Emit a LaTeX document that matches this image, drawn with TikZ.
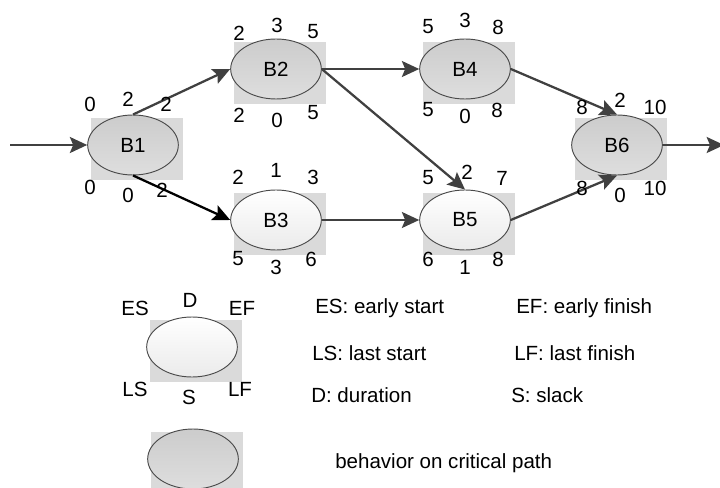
\documentclass[tikz,border=0pt]{standalone}
\usepackage{fontspec}
\setmainfont{Liberation Sans}
\usetikzlibrary{shapes.geometric,arrows.meta,backgrounds}

\definecolor{boxgray}{HTML}{DADADA}
\definecolor{linegray}{HTML}{404040}
\definecolor{rimgray}{HTML}{4A4A4A}

\tikzset{
  task/.style={ellipse, draw=rimgray, line width=0.7pt, minimum width=68pt, minimum height=45pt, inner sep=0pt},
  crit/.style={task, top color=black!20, bottom color=black!13},
  free/.style={task, top color=white, bottom color=black!8},
  num/.style={inner sep=0pt},
  key/.style={inner sep=0pt, anchor=west},
  arr/.style={draw=linegray, line width=1.7pt, -{Stealth[length=13pt, width=12pt, inset=2.5pt]}},
}

\begin{document}
\begin{tikzpicture}[x=0.75pt, y=-0.75pt, every node/.style={font=\fontsize{15.4}{18}\selectfont}]
\useasboundingbox (0,0) rectangle (720,488);

\node [crit] (B1) at (133,145) {B1};
\node [crit] (B2) at (276,69) {B2};
\node [free] (B3) at (276,220) {B3};
\node [crit] (B4) at (465,69) {B4};
\node [free] (B5) at (465,220) {B5};
\node [crit] (B6) at (617,145) {B6};

\node [free] (L1) at (192,347) {};
\node [crit] (L2) at (193,459) {};

% grey boxes behind the tasks
\begin{scope}[on background layer]
\foreach \t in {B1,B2,B3,B4,B5,B6,L1,L2}
  \fill [boxgray] ([shift={(-42,-27)}]\t.center) rectangle ([shift={(50,35)}]\t.center);
\end{scope}

\coordinate (in) at (10,145);
\coordinate (out) at (724,145);
\draw [arr] (in) -- (B1.west);
\draw [arr] (B1.north) -- (B2.west);
\draw [arr, draw=black] (B1.south) -- (B3.west);
\draw [arr] (B2.east) -- (B4.west);
\draw [arr] (B2.east) -- (B5.north);
\draw [arr] (B3.east) -- (B5.west);
\draw [arr] (B4.east) -- (B6.north);
\draw [arr] (B5.east) -- (B6.south);
\draw [arr] (B6.east) -- (out);

% ES D EF / LS S LF
\node [num] (B1es) at (90,104) {0};
\node [num] (B1d) at (128,99) {2};
\node [num] (B1ef) at (166,104) {2};
\node [num] (B1ls) at (90,187) {0};
\node [num] (B1s) at (128,195) {0};
\node [num] (B1lf) at (162,190) {2};

\node [num] (B2es) at (239,33) {2};
\node [num] (B2d) at (277,25) {3};
\node [num] (B2ef) at (313,32) {5};
\node [num] (B2ls) at (239,115) {2};
\node [num] (B2s) at (277,120) {0};
\node [num] (B2lf) at (313,113) {5};

\node [num] (B3es) at (238,177) {2};
\node [num] (B3d) at (276,170) {1};
\node [num] (B3ef) at (313,177) {3};
\node [num] (B3ls) at (238,259) {5};
\node [num] (B3s) at (276,267) {3};
\node [num] (B3lf) at (311,259) {6};

\node [num] (B4es) at (428,27) {5};
\node [num] (B4d) at (465,20) {3};
\node [num] (B4ef) at (498,27) {8};
\node [num] (B4ls) at (428,110) {5};
\node [num] (B4s) at (465,116) {0};
\node [num] (B4lf) at (497,110) {8};

\node [num] (B5es) at (428,178) {5};
\node [num] (B5d) at (467,172) {2};
\node [num] (B5ef) at (502,178) {7};
\node [num] (B5ls) at (428,259) {6};
\node [num] (B5s) at (465,267) {1};
\node [num] (B5lf) at (498,259) {8};

\node [num] (B6es) at (582,107) {8};
\node [num] (B6d) at (620,100) {2};
\node [num] (B6ef) at (655,107) {10};
\node [num] (B6ls) at (582,188) {8};
\node [num] (B6s) at (620,195) {0};
\node [num] (B6lf) at (655,188) {10};

% legend
\node [num] (L1es) at (135,308) {ES};
\node [num] (L1d) at (190,300) {D};
\node [num] (L1ef) at (242,308) {EF};
\node [num] (L1ls) at (135,389) {LS};
\node [num] (L1s) at (189,397) {S};
\node [num] (L1lf) at (240,389) {LF};

\node [key] (k1) at (315,308) {ES: early start};
\node [key] (k2) at (516,308) {EF: early finish};
\node [key] (k3) at (312,353) {LS: last start};
\node [key] (k4) at (514,353) {LF: last finish};
\node [key] (k5) at (311,395) {D: duration};
\node [key] (k6) at (511,395) {S: slack};
\node [key] (k7) at (335,463) {behavior on critical path};
\end{tikzpicture}
\end{document}
